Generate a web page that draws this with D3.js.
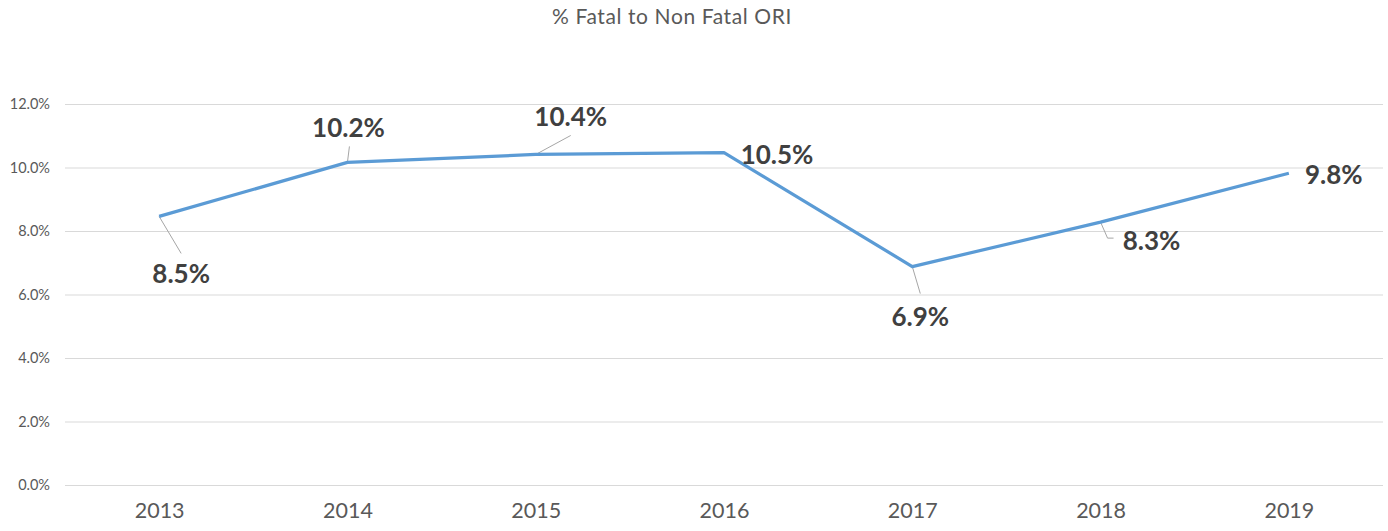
<!DOCTYPE html>
<html>
<head>
<meta charset="utf-8">
<script src="https://cdn.jsdelivr.net/npm/d3@7"></script>
<style>
  body { margin: 0; background: #fff; }
  svg { display: block; font-family: Lato, "Open Sans", sans-serif; }
</style>
</head>
<body>
<svg id="chart" width="1388" height="531"></svg>
<script>
// chart data
var title = "% Fatal to Non Fatal ORI";
var years = ["2013", "2014", "2015", "2016", "2017", "2018", "2019"];
var pctValues = [8.46, 10.16, 10.41, 10.47, 6.88, 8.28, 9.82];
var yTicks = [0, 2, 4, 6, 8, 10, 12];

// where each data label sits relative to its point (dx, dy of label centre)
// and the leader line path (null = no leader)
var labelPlace = [
  { dx: 22, dy: 58, leader: [[0, 0], [22, 37]] },
  { dx: 1, dy: -35, leader: [[0, 0], [2, -16]] },
  { dx: 35, dy: -38, leader: [[0, 0], [35, -19]] },
  { dx: 53, dy: 2, leader: null },
  { dx: 8, dy: 50, leader: [[0, 0], [8, 27]] },
  { dx: 51, dy: 19, leader: [[0, 0], [7, 16], [13, 16]] },
  { dx: 45, dy: 2, leader: null }
];

var svg = d3.select("#chart");
var margin = { left: 65, right: 5, top: 104, bottom: 46 };
var W = 1388, H = 531;

var x = d3.scalePoint()
  .domain(years)
  .range([margin.left, W - margin.right])
  .padding(0.5);

var y = d3.scaleLinear()
  .domain([0, 12])
  .range([H - margin.bottom, margin.top]);

// title
svg.append("text")
  .attr("x", 672)
  .attr("y", 24)
  .attr("text-anchor", "middle")
  .attr("font-size", 21)
  .attr("letter-spacing", 0.6)
  .attr("fill", "#595959")
  .text(title);

// gridlines
svg.append("g").selectAll("line")
  .data(yTicks).enter()
  .append("line")
    .attr("x1", margin.left)
    .attr("x2", W - margin.right)
    .attr("y1", d => y(d) + 0.5)
    .attr("y2", d => y(d) + 0.5)
    .attr("stroke", "#d9d9d9")
    .attr("stroke-width", 1);

// y axis labels
var yAxis = d3.axisLeft(y)
  .tickValues(yTicks)
  .tickSize(0)
  .tickPadding(15)
  .tickFormat(d => d.toFixed(1) + "%");
var gy = svg.append("g")
  .attr("transform", "translate(" + margin.left + ",0)")
  .call(yAxis);
gy.select(".domain").remove();
gy.selectAll("text")
  .attr("font-size", 14.5)
  .attr("font-family", "Lato, sans-serif")
  .attr("fill", "#595959");

// x axis labels
var xAxis = d3.axisBottom(x).tickSize(0).tickPadding(18);
var gx = svg.append("g")
  .attr("transform", "translate(0," + y(0) + ")")
  .call(xAxis);
gx.select(".domain").remove();
gx.selectAll("text")
  .attr("font-size", 21.5)
  .attr("font-family", "Lato, sans-serif")
  .attr("fill", "#595959");

var pts = years.map((yr, i) => ({ year: yr, v: pctValues[i], place: labelPlace[i] }));

// leader lines
svg.append("g").selectAll("path")
  .data(pts.filter(d => d.place.leader)).enter()
  .append("path")
    .attr("d", d => d3.line()(d.place.leader.map(p => [x(d.year) + p[0], y(d.v) + p[1]])))
    .attr("fill", "none")
    .attr("stroke", "#a6a6a6")
    .attr("stroke-width", 1);

// the line
svg.append("path")
  .datum(pts)
  .attr("d", d3.line().x(d => x(d.year)).y(d => y(d.v)))
  .attr("fill", "none")
  .attr("stroke", "#5b9bd5")
  .attr("stroke-width", 3.25)
  .attr("stroke-linejoin", "round");

// data labels
svg.append("g").selectAll("text")
  .data(pts).enter()
  .append("text")
    .attr("x", d => x(d.year) + d.place.dx)
    .attr("y", d => y(d.v) + d.place.dy)
    .attr("dy", "0.35em")
    .attr("text-anchor", "middle")
    .attr("font-size", 26)
    .attr("font-weight", "bold")
    .attr("fill", "#404040")
    .text(d => d.v.toFixed(1) + "%");
</script>
</body>
</html>
